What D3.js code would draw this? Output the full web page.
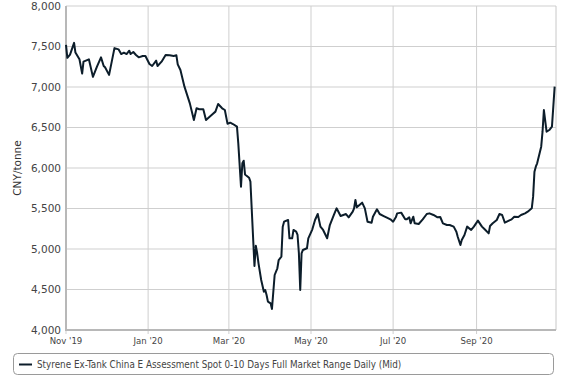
<!DOCTYPE html>
<html><head><meta charset="utf-8">
<script src="https://cdn.jsdelivr.net/npm/d3@7"></script>
<style>html,body{margin:0;padding:0;background:#fff;}svg{display:block;}</style>
</head><body>
<svg id="chart" width="576" height="384"></svg>
<script>
const dates = ["2019-11-01","2019-11-02","2019-11-04","2019-11-07","2019-11-08","2019-11-11","2019-11-13","2019-11-14","2019-11-18","2019-11-21","2019-11-24","2019-11-27","2019-11-29","2019-11-30",
"2019-12-03","2019-12-07","2019-12-10","2019-12-12","2019-12-14","2019-12-16","2019-12-18","2019-12-19","2019-12-21","2019-12-23","2019-12-25","2019-12-28","2019-12-30",
"2020-01-02","2020-01-04","2020-01-07","2020-01-08","2020-01-11","2020-01-14","2020-01-17","2020-01-20","2020-01-22","2020-01-23","2020-01-25","2020-01-28",
"2020-02-01","2020-02-04","2020-02-06","2020-02-08","2020-02-11","2020-02-13","2020-02-18","2020-02-20","2020-02-22","2020-02-25","2020-02-27","2020-02-29",
"2020-03-02","2020-03-04","2020-03-07","2020-03-08","2020-03-10","2020-03-11","2020-03-12","2020-03-13","2020-03-16","2020-03-17","2020-03-18","2020-03-20","2020-03-21","2020-03-22","2020-03-23","2020-03-25","2020-03-27","2020-03-28","2020-03-29","2020-03-30",
"2020-04-01","2020-04-02","2020-04-04","2020-04-06","2020-04-07","2020-04-09","2020-04-10","2020-04-11","2020-04-14","2020-04-15","2020-04-17","2020-04-18","2020-04-20","2020-04-21","2020-04-22","2020-04-23","2020-04-24","2020-04-25","2020-04-28","2020-04-29",
"2020-05-02","2020-05-04","2020-05-06","2020-05-08","2020-05-10","2020-05-13","2020-05-15","2020-05-18","2020-05-20","2020-05-23","2020-05-25","2020-05-27","2020-05-29",
"2020-06-01","2020-06-02","2020-06-03","2020-06-04","2020-06-06","2020-06-08","2020-06-10","2020-06-12","2020-06-15","2020-06-16","2020-06-19","2020-06-21","2020-06-24","2020-06-26","2020-06-29",
"2020-07-01","2020-07-03","2020-07-04","2020-07-07","2020-07-10","2020-07-11","2020-07-13","2020-07-14","2020-07-16","2020-07-17","2020-07-20","2020-07-23","2020-07-26","2020-07-28","2020-07-31",
"2020-08-03","2020-08-05","2020-08-07","2020-08-10","2020-08-12","2020-08-15","2020-08-17","2020-08-18","2020-08-20","2020-08-21","2020-08-23","2020-08-25","2020-08-28","2020-08-30",
"2020-09-02","2020-09-05","2020-09-07","2020-09-10","2020-09-11","2020-09-13","2020-09-16","2020-09-18","2020-09-20","2020-09-22","2020-09-25","2020-09-27","2020-09-29",
"2020-10-02","2020-10-04","2020-10-07","2020-10-09","2020-10-12","2020-10-13","2020-10-14","2020-10-15","2020-10-16","2020-10-19","2020-10-20","2020-10-21","2020-10-23","2020-10-25","2020-10-27","2020-10-29"];
const values = [7520,7360,7400,7545,7425,7342,7165,7313,7342,7125,7251,7366,7259,7243,
7150,7480,7465,7407,7424,7407,7448,7407,7432,7395,7366,7383,7383,
7284,7259,7325,7259,7313,7395,7391,7383,7391,7280,7210,7004,
6798,6593,6737,6725,6725,6593,6667,6696,6790,6737,6716,6545,
6560,6543,6510,6300,5770,6058,6090,5920,5880,5831,5481,4790,5040,4950,4823,4617,4473,4494,4432,4350,
4329,4260,4679,4762,4864,4905,5276,5337,5358,5132,5132,5235,5214,5173,4947,4494,4947,4988,5009,5132,
5243,5358,5432,5276,5235,5132,5296,5420,5502,5407,5420,5432,5391,
5461,5502,5605,5514,5543,5572,5502,5337,5325,5399,5490,5432,5407,5391,5366,
5337,5391,5440,5449,5366,5366,5391,5317,5399,5317,5309,5366,5432,5440,5420,
5391,5395,5317,5296,5296,5276,5214,5152,5049,5111,5173,5276,5235,5276,
5350,5276,5243,5193,5284,5317,5358,5432,5420,5325,5350,5366,5399,
5395,5420,5440,5461,5502,5646,5955,6016,6058,6263,6448,6716,6448,6469,6510,7004];
const yTicks = [4000,4500,5000,5500,6000,6500,7000,7500,8000];
const xTickDates = ["2019-11-01","2020-01-01","2020-03-01","2020-05-01","2020-07-01","2020-09-01"];
const xTickLabels = ["Nov '19","Jan '20","Mar '20","May '20","Jul '20","Sep '20"];
const xDomain = ["2019-11-01","2020-10-30"];
const yTitle = "CNY/tonne";
const seriesName = "Styrene Ex-Tank China E Assessment Spot 0-10 Days Full Market Range Daily (Mid)";

const parse = d3.timeParse("%Y-%m-%d");
const data = dates.map((d,i)=>({date:parse(d), value:values[i]}));

const svg = d3.select("#chart");
const L = 66, R = 556, T = 6, B = 330;
const x = d3.scaleTime().domain(xDomain.map(parse)).range([L, R]);
const y = d3.scaleLinear().domain([4000, 8000]).range([B, T]);

// horizontal grid
svg.append("g").selectAll("line").data(yTicks).join("line")
  .attr("x1", L).attr("x2", R)
  .attr("y1", d=>y(d)).attr("y2", d=>y(d))
  .attr("stroke", "#cfcfcf").attr("stroke-width", 1);

// vertical grid + tick marks
const xt = xTickDates.map(parse);
svg.append("g").selectAll("line").data(xt).join("line")
  .attr("x1", d=>x(d)).attr("x2", d=>x(d))
  .attr("y1", T).attr("y2", B + 4)
  .attr("stroke", "#cfcfcf").attr("stroke-width", 1);

// right border
svg.append("line").attr("x1", R).attr("x2", R).attr("y1", T).attr("y2", B)
  .attr("stroke", "#c8c8c8").attr("stroke-width", 1);
// left axis line
svg.append("line").attr("x1", L).attr("x2", L).attr("y1", T).attr("y2", B + 1)
  .attr("stroke", "#b8b8b8").attr("stroke-width", 2);
// bottom axis line
svg.append("line").attr("x1", L).attr("x2", R).attr("y1", B).attr("y2", B)
  .attr("stroke", "#b8b8b8").attr("stroke-width", 2);

// y labels
svg.append("g").selectAll("text").data(yTicks).join("text")
  .attr("x", L - 5).attr("y", d=>y(d)).attr("dy", "0.35em")
  .attr("text-anchor", "end")
  .attr("font-family", "DejaVu Sans").attr("font-size", "10.5px").attr("fill", "#444")
  .text(d=>d3.format(",")(d));

// x labels
svg.append("g").selectAll("text").data(xt).join("text")
  .attr("x", d=>x(d)).attr("y", B + 14)
  .attr("text-anchor", "middle")
  .attr("font-family", "DejaVu Sans Condensed").attr("font-size", "9.5px").attr("fill", "#444")
  .text((d,i)=>xTickLabels[i]);

// y title
svg.append("text")
  .attr("transform", `translate(21,${(T+B)/2}) rotate(-90)`)
  .attr("text-anchor", "middle")
  .attr("font-family", "DejaVu Sans").attr("font-size", "10.5px").attr("fill", "#333")
  .text(yTitle);

// line
const line = d3.line().x(d=>x(d.date)).y(d=>y(d.value));
svg.append("path").datum(data)
  .attr("d", line).attr("fill", "none")
  .attr("stroke", "#0c1d2a").attr("stroke-width", 2)
  .attr("stroke-linejoin", "round");

// legend
const lg = svg.append("g");
lg.append("rect").attr("x", 13.5).attr("y", 353.5).attr("width", 540).attr("height", 21)
  .attr("rx", 4).attr("fill", "#fff").attr("stroke", "#9a9a9a").attr("stroke-width", 1);
lg.append("line").attr("x1", 19).attr("x2", 32).attr("y1", 364.5).attr("y2", 364.5)
  .attr("stroke", "#0c1d2a").attr("stroke-width", 2);
lg.append("text").attr("x", 37).attr("y", 368)
  .attr("font-family", "DejaVu Sans Condensed").attr("font-size", "9.8px").attr("fill", "#444")
  .text(seriesName);
</script>
</body></html>
